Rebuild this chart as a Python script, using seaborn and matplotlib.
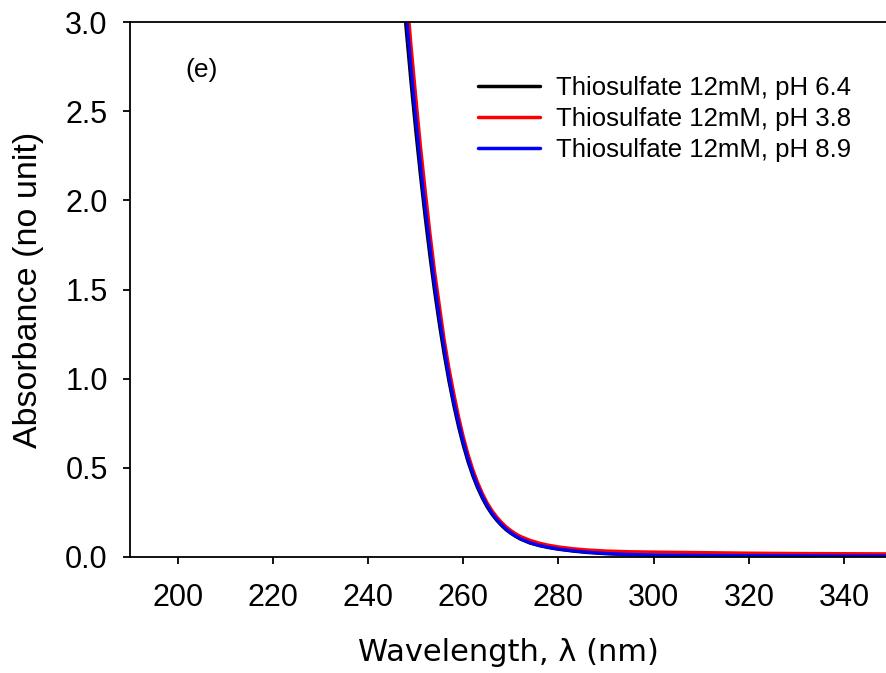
import numpy as np
import pandas as pd
import matplotlib
matplotlib.use("Agg")
import matplotlib.pyplot as plt
import seaborn as sns

# ---- data ----
wavelength = [246, 247, 248, 249, 250, 251, 252, 253, 254, 255, 256, 257, 258, 259,
              260, 261, 262, 263, 264, 265, 266, 267, 268, 269, 270, 271, 272, 274,
              276, 278, 280, 283, 286, 290, 295, 300, 310, 320, 330, 340, 350]

abs_ph64 = [3.60, 3.27, 2.96, 2.667, 2.394, 2.140, 1.904, 1.685, 1.484, 1.301, 1.134, 0.984, 0.850, 0.731,
            0.626, 0.534, 0.455, 0.388, 0.330, 0.281, 0.240, 0.206, 0.177, 0.152, 0.132, 0.115, 0.100, 0.078,
            0.063, 0.052, 0.043, 0.033, 0.025, 0.018, 0.013, 0.010, 0.008, 0.007, 0.006, 0.005, 0.005]

abs_ph38 = [3.89, 3.53, 3.20, 2.88, 2.59, 2.31, 2.06, 1.82, 1.60, 1.41, 1.22, 1.06, 0.92, 0.79,
            0.676, 0.577, 0.492, 0.420, 0.358, 0.305, 0.262, 0.226, 0.196, 0.170, 0.149, 0.131, 0.116, 0.094,
            0.078, 0.066, 0.057, 0.047, 0.040, 0.034, 0.030, 0.028, 0.025, 0.022, 0.020, 0.019, 0.018]

abs_ph89 = [3.71, 3.37, 3.05, 2.75, 2.47, 2.20, 1.96, 1.74, 1.53, 1.34, 1.17, 1.01, 0.876, 0.753,
            0.645, 0.550, 0.469, 0.400, 0.340, 0.290, 0.247, 0.212, 0.182, 0.157, 0.136, 0.118, 0.103, 0.080,
            0.065, 0.054, 0.045, 0.035, 0.027, 0.020, 0.014, 0.011, 0.009, 0.008, 0.007, 0.006, 0.006]

labels = ["Thiosulfate 12mM, pH 6.4", "Thiosulfate 12mM, pH 3.8", "Thiosulfate 12mM, pH 8.9"]
colors = ["#000000", "#ff0000", "#0000ff"]
series = [abs_ph64, abs_ph38, abs_ph89]

df = pd.concat([
    pd.DataFrame({"wl": wavelength, "A": vals, "series": lab})
    for vals, lab in zip(series, labels)
], ignore_index=True)

# ---- style ----
sns.set_style("ticks")
plt.rcParams["font.family"] = ["Liberation Sans", "DejaVu Sans"]
plt.rcParams["text.color"] = "black"
plt.rcParams["axes.labelcolor"] = "black"
plt.rcParams["xtick.color"] = "black"
plt.rcParams["ytick.color"] = "black"

W, H = 886, 673
fig = plt.figure(figsize=(W / 100, H / 100), dpi=100)
ax = fig.add_axes([130 / W, 116 / H, 756 / W, 535 / H])

sns.lineplot(data=df, x="wl", y="A", hue="series", hue_order=labels,
             palette=dict(zip(labels, colors)), linewidth=2.3, ax=ax,
             estimator=None, sort=True)

ax.set_xlim(190, 348.8)
ax.set_ylim(0, 3.0)
ax.set_xticks([200, 220, 240, 260, 280, 300, 320, 340])
ax.set_yticks([0.0, 0.5, 1.0, 1.5, 2.0, 2.5, 3.0])
ax.set_yticklabels(["0.0", "0.5", "1.0", "1.5", "2.0", "2.5", "3.0"])

for side in ["left", "bottom", "top"]:
    ax.spines[side].set_linewidth(1.3)
    ax.spines[side].set_color("black")
ax.spines["right"].set_visible(False)

ax.tick_params(axis="both", direction="out", length=5, width=1.3, colors="black",
               labelcolor="black", labelsize=22)
ax.tick_params(axis="x", pad=14)
ax.tick_params(axis="y", pad=11)

ax.set_xlabel("Wavelength, λ (nm)", fontsize=22, family=["DejaVu Sans"], labelpad=18,
              color="black")
ax.set_ylabel("Absorbance (no unit)", fontsize=24.5, labelpad=15, color="black")

ax.text(205, 2.73, "(e)", fontsize=19, ha="center", va="center",
        transform=ax.transData, color="black")

leg = ax.legend(loc="upper left", bbox_to_anchor=((478 - 130) / 756, (557 - 76) / 535),
                frameon=False, fontsize=18.5, handlelength=2.4, handletextpad=0.65,
                labelspacing=0.27, borderpad=0, borderaxespad=0)
for line in leg.get_lines():
    line.set_linewidth(2.5)
for t in leg.get_texts():
    t.set_color("black")

fig.savefig("out.png", dpi=100)
